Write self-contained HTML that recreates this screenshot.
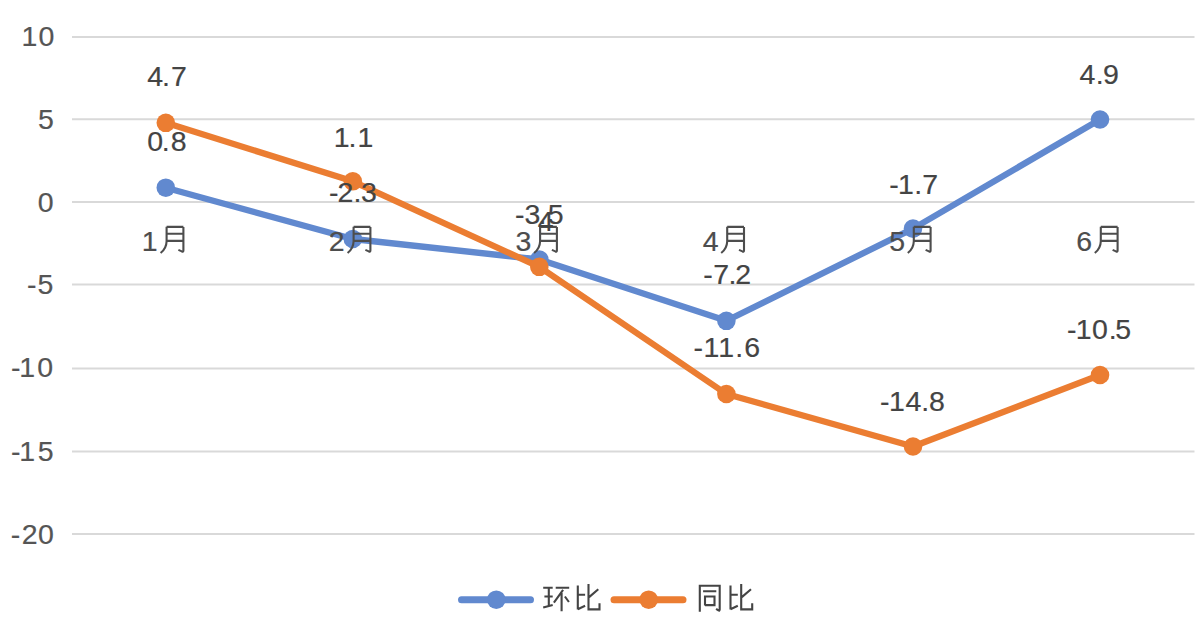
<!DOCTYPE html><html><head><meta charset="utf-8"><style>html,body{margin:0;padding:0;background:#fff;}svg{display:block;font-family:"Liberation Sans",sans-serif;}</style></head><body><svg width="1200" height="621" viewBox="0 0 1200 621">
<rect width="1200" height="621" fill="#ffffff"/>
<line x1="72" y1="36.9" x2="1194.5" y2="36.9" stroke="#d9d9d9" stroke-width="2"/>
<line x1="72" y1="119.3" x2="1194.5" y2="119.3" stroke="#d9d9d9" stroke-width="2"/>
<line x1="72" y1="201.9" x2="1194.5" y2="201.9" stroke="#d9d9d9" stroke-width="2"/>
<line x1="72" y1="284.6" x2="1194.5" y2="284.6" stroke="#d9d9d9" stroke-width="2"/>
<line x1="72" y1="368.6" x2="1194.5" y2="368.6" stroke="#d9d9d9" stroke-width="2"/>
<line x1="72" y1="451.4" x2="1194.5" y2="451.4" stroke="#d9d9d9" stroke-width="2"/>
<line x1="72" y1="533.9" x2="1194.5" y2="533.9" stroke="#d9d9d9" stroke-width="2"/>
<g font-family="Liberation Sans, sans-serif" font-size="28.5" fill="#555555" stroke="#555555" stroke-width="0.2">
<text x="21.39 38.57" y="46.30">10</text>
<text x="38.05" y="128.80">5</text>
<text x="37.72" y="212.00">0</text>
<text x="26.95 37.50" y="294.40">-5</text>
<text x="10.90 19.24 37.22" y="377.40">-10</text>
<text x="10.90 19.19 37.65" y="461.00">-15</text>
<text x="10.75 21.67 38.07" y="543.80">-20</text>
</g>
<polyline points="165.8,187.7 352.8,239.0 539.3,259.5 726.4,320.8 913.0,228.6 1100.0,119.5" fill="none" stroke="#6189cf" stroke-width="6.3" stroke-linejoin="round" stroke-linecap="round"/>
<circle cx="165.8" cy="187.7" r="9.3" fill="#6189cf"/>
<circle cx="352.8" cy="239.0" r="9.3" fill="#6189cf"/>
<circle cx="539.3" cy="259.5" r="9.3" fill="#6189cf"/>
<circle cx="726.4" cy="320.8" r="9.3" fill="#6189cf"/>
<circle cx="913.0" cy="228.6" r="9.3" fill="#6189cf"/>
<circle cx="1100.0" cy="119.5" r="9.3" fill="#6189cf"/>
<polyline points="165.8,122.8 352.8,181.3 539.3,266.8 726.4,394.0 913.0,446.5 1100.0,375.0" fill="none" stroke="#eb7d32" stroke-width="6.3" stroke-linejoin="round" stroke-linecap="round"/>
<circle cx="165.8" cy="122.8" r="9.3" fill="#eb7d32"/>
<circle cx="352.8" cy="181.3" r="9.3" fill="#eb7d32"/>
<circle cx="539.3" cy="266.8" r="9.3" fill="#eb7d32"/>
<circle cx="726.4" cy="394.0" r="9.3" fill="#eb7d32"/>
<circle cx="913.0" cy="446.5" r="9.3" fill="#eb7d32"/>
<circle cx="1100.0" cy="375.0" r="9.3" fill="#eb7d32"/>
<g font-family="Liberation Sans, sans-serif" font-size="28.5" fill="#4d4d4d" stroke="#4d4d4d" stroke-width="0.2">
<text x="141.84" y="251.40">1</text>
<text x="328.77" y="250.70">2</text>
<text x="515.46" y="250.70">3</text>
<text x="702.72" y="250.80">4</text>
<text x="889.15" y="251.00">5</text>
<text x="1076.18" y="251.00">6</text>
</g>
<g fill="none" stroke="#4d4d4d" stroke-width="2.1">
<path transform="translate(159.8,226.0)" d="M6.8 0.8V15.2Q6.6 22.5 0.8 27.0M6.8 0.9H23.6M23.6 0.9V24.6Q23.6 26.0 22.0 25.4L18.6 23.9M6.8 7.8H23.6M6.8 14.9H23.6"/>
<path transform="translate(346.8,226.0)" d="M6.8 0.8V15.2Q6.6 22.5 0.8 27.0M6.8 0.9H23.6M23.6 0.9V24.6Q23.6 26.0 22.0 25.4L18.6 23.9M6.8 7.8H23.6M6.8 14.9H23.6"/>
<path transform="translate(533.3,226.0)" d="M6.8 0.8V15.2Q6.6 22.5 0.8 27.0M6.8 0.9H23.6M23.6 0.9V24.6Q23.6 26.0 22.0 25.4L18.6 23.9M6.8 7.8H23.6M6.8 14.9H23.6"/>
<path transform="translate(720.4,226.0)" d="M6.8 0.8V15.2Q6.6 22.5 0.8 27.0M6.8 0.9H23.6M23.6 0.9V24.6Q23.6 26.0 22.0 25.4L18.6 23.9M6.8 7.8H23.6M6.8 14.9H23.6"/>
<path transform="translate(907.0,226.0)" d="M6.8 0.8V15.2Q6.6 22.5 0.8 27.0M6.8 0.9H23.6M23.6 0.9V24.6Q23.6 26.0 22.0 25.4L18.6 23.9M6.8 7.8H23.6M6.8 14.9H23.6"/>
<path transform="translate(1094.0,226.0)" d="M6.8 0.8V15.2Q6.6 22.5 0.8 27.0M6.8 0.9H23.6M23.6 0.9V24.6Q23.6 26.0 22.0 25.4L18.6 23.9M6.8 7.8H23.6M6.8 14.9H23.6"/>
</g>
<g font-family="Liberation Sans, sans-serif" font-size="28.5" fill="#444444" stroke="#444444" stroke-width="0.2">
<text x="147.37 162.09 170.96" y="86.00">4.7</text>
<text x="147.32 161.84 170.67" y="151.00">0.8</text>
<text x="333.84 348.59 357.59" y="147.40">1.1</text>
<text x="329.00 337.52 353.59 361.11" y="202.40">-2.3</text>
<text x="515.10 524.51 538.54 547.80" y="223.80">-3.5</text>
<text x="537.67" y="231.30">4</text>
<text x="703.30 713.31 728.59 735.32" y="283.50">-7.2</text>
<text x="693.60 703.54 718.34 735.19 744.25" y="357.30">-11.6</text>
<text x="889.15 897.99 914.24 922.16" y="193.60">-1.7</text>
<text x="880.08 889.06 905.49 921.19 929.02" y="411.10">-14.8</text>
<text x="1079.52 1095.69 1103.08" y="84.10">4.9</text>
<text x="1066.93 1075.76 1091.90 1108.64 1115.35" y="339.40">-10.5</text>
</g>
<line x1="461.5" y1="599.7" x2="530.5" y2="599.7" stroke="#6189cf" stroke-width="7" stroke-linecap="round"/>
<circle cx="496.3" cy="599.7" r="9.3" fill="#6189cf"/>
<line x1="614" y1="599.7" x2="683" y2="599.7" stroke="#eb7d32" stroke-width="7" stroke-linecap="round"/>
<circle cx="648.7" cy="599.7" r="9.3" fill="#eb7d32"/>
<g fill="none" stroke="#444444" stroke-width="2.1">
<path d="M543.2 587.7H552.7M544.4 596.5H552.7M548.8 587.7V605.9M543.2 607.5L552.7 604.9M555.7 587.7H569.2M563.1 589.8L553.9 602.6M561.6 592.9V611.2M564.9 596.5L568.9 602"/>
<path transform="translate(577.8,584.0)" d="M0 1.5V25.4M0 10.7H7.3M0 25.2L7.3 21.7M10.7 0V25.4H21.7V19.3M20.5 5.2L11.3 13.1"/>
<path d="M699.8 611.8V585.8H719.7V609.6Q719.7 611 718.4 610.4L716.1 608.8M703.1 591.3H716.3M705 605.5V596.5H714.5V606.3M705 605.1H714.5"/>
<path transform="translate(730.5,584.0)" d="M0 1.5V25.4M0 10.7H7.3M0 25.2L7.3 21.7M10.7 0V25.4H21.7V19.3M20.5 5.2L11.3 13.1"/>
</g>
</svg></body></html>
